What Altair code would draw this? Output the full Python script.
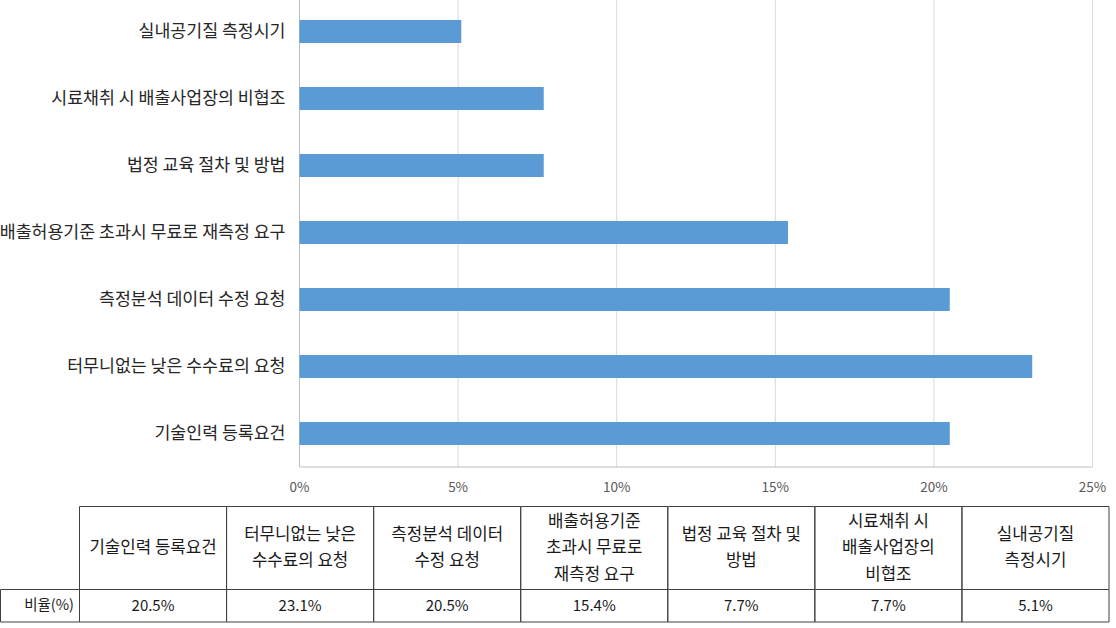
import altair as alt
import pandas as pd

# ---- data -------------------------------------------------------------
categories = [
    "기술인력 등록요건",
    "터무니없는 낮은 수수료의 요청",
    "측정분석 데이터 수정 요청",
    "배출허용기준 초과시 무료로 재측정 요구",
    "법정 교육 절차 및 방법",
    "시료채취 시 배출사업장의 비협조",
    "실내공기질 측정시기",
]
values = [20.5, 23.1, 20.5, 15.4, 7.7, 7.7, 5.1]
table_headers = [
    ["기술인력 등록요건"],
    ["터무니없는 낮은", "수수료의 요청"],
    ["측정분석 데이터", "수정 요청"],
    ["배출허용기준", "초과시 무료로", "재측정 요구"],
    ["법정 교육 절차 및", "방법"],
    ["시료채취 시", "배출사업장의", "비협조"],
    ["실내공기질", "측정시기"],
]
ticks = [0, 5, 10, 15, 20, 25]
tick_labels = ["0%", "5%", "10%", "15%", "20%", "25%"]
row_label = "비율(%)"

# ---- layout / style ---------------------------------------------------
FONT = "Noto Sans CJK KR"
W, H = 1116, 628
PX0, PX1 = 299.5, 1092.5      # plot x range
PY0, PY1 = 0, 467             # plot y range
TX0, TX1 = 79.5, 1109         # table value columns
T_TOP, T_MID, T_BOT = 506.5, 589.5, 622
LINE_H = 26.5
BAR_BLUE = "#5B9BD5"

df = pd.DataFrame({
    "category": categories,
    "value": values,
    "label": [f"{v:.1f}%" for v in values],
})
line_rows = []
for cat, lines in zip(categories, table_headers):
    n = len(lines)
    for i, ln in enumerate(lines):
        line_rows.append({"category": cat, "line": ln, "pos": i - (n - 1) / 2})
lines_df = pd.DataFrame(line_rows)
ticks_df = pd.DataFrame({"t": ticks, "lab": tick_labels})
bar_order = categories[::-1]


def xq(field="value"):
    return alt.X(f"{field}:Q", scale=alt.Scale(domain=[0, 25], range=[PX0, PX1]), axis=None)


def yb():
    return alt.Y("category:N", scale=alt.Scale(domain=bar_order, range=[-2, PY1],
                                                paddingInner=0.657, paddingOuter=0.33), axis=None)


def xt():
    return alt.X("category:N", scale=alt.Scale(domain=categories, range=[TX0, TX1],
                                                paddingInner=0, paddingOuter=0), axis=None)


T_HMID = (T_TOP + T_MID) / 2

base = alt.Chart(df)
tick_base = alt.Chart(ticks_df)

grid = tick_base.transform_filter("datum.t > 0").mark_rule(color="#D9D9D9", strokeWidth=1).encode(
    x=xq("t"), y=alt.value(PY0), y2=alt.value(PY1))

axis_df = pd.DataFrame({"a": [0], "b": [25]})
left_axis = alt.Chart(axis_df).mark_rule(color="#BFBFBF", strokeWidth=1).encode(
    x=xq("a"), y=alt.value(PY0), y2=alt.value(PY1))
bottom_axis = alt.Chart(axis_df).mark_rule(color="#BFBFBF", strokeWidth=1).encode(
    x=xq("a"), x2="b", y=alt.value(PY1))

bars = base.mark_bar(color=BAR_BLUE, size=23).encode(x=xq(), y=yb())

cat_labels = base.transform_calculate(zero="0").mark_text(
    align="right", baseline="middle", dx=-14, font=FONT, fontSize=17.3, color="#262626"
).encode(x=xq("zero"), y=yb(), text="category:N")

tick_text = tick_base.mark_text(
    align="center", baseline="middle", font=FONT, fontSize=13.5, color="#595959"
).encode(x=xq("t"), y=alt.value(488), text="lab:N")

head_cells = base.mark_rect(fill="white", fillOpacity=0, stroke="#404040", strokeWidth=1).encode(
    x=xt(), y=alt.value(T_TOP), y2=alt.value(T_MID))
val_cells = base.mark_rect(fill="white", fillOpacity=0, stroke="#404040", strokeWidth=1).encode(
    x=xt(), y=alt.value(T_MID), y2=alt.value(T_BOT))

head_text = alt.Chart(lines_df).mark_text(
    align="center", baseline="middle", font=FONT, fontSize=16.8, color="#1a1a1a"
).encode(
    x=xt(),
    y=alt.Y("pos:Q", scale=alt.Scale(domain=[-1, 1], range=[T_HMID - LINE_H, T_HMID + LINE_H]), axis=None),
    text="line:N",
)

val_text = base.mark_text(
    align="center", baseline="middle", font=FONT, fontSize=15, color="#1a1a1a"
).encode(x=xt(), y=alt.value((T_MID + T_BOT) / 2), text="label:N")

row_df = pd.DataFrame({"r": [row_label]})
row_cell = alt.Chart(row_df).mark_rect(fill="white", fillOpacity=0, stroke="#404040", strokeWidth=1).encode(
    x=alt.value(0.5), x2=alt.value(TX0), y=alt.value(T_MID), y2=alt.value(T_BOT))
row_text = alt.Chart(row_df).mark_text(
    align="right", baseline="middle", font=FONT, fontSize=14.5, color="#1a1a1a"
).encode(x=alt.value(74), y=alt.value((T_MID + T_BOT) / 2), text="r:N")

chart = alt.layer(
    grid, left_axis, bottom_axis, bars, cat_labels, tick_text,
    head_cells, val_cells, head_text, val_text, row_cell, row_text,
).resolve_scale(x="independent", y="independent").properties(
    width=W, height=H, autosize="none", padding=0
).configure_view(stroke=None)

chart.save("out.html", embed_options={"renderer": "svg", "actions": False})
